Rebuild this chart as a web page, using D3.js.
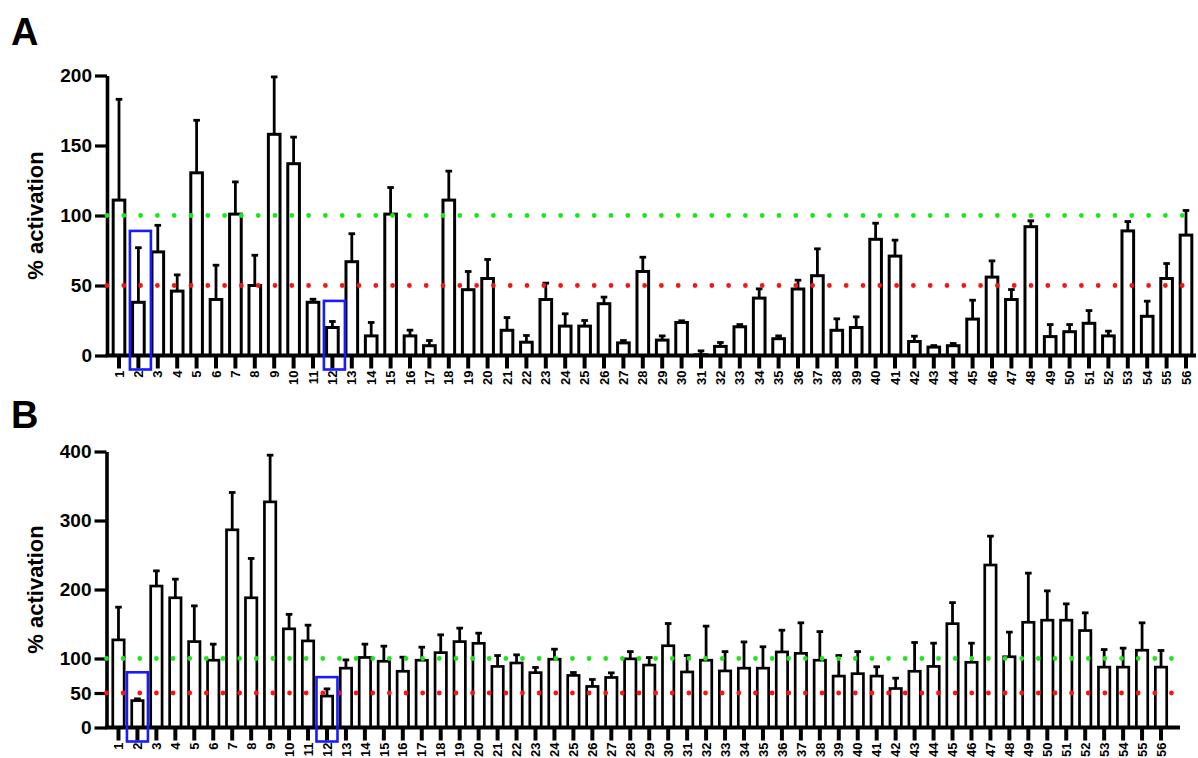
<!DOCTYPE html>
<html>
<head>
<meta charset="utf-8">
<script src="https://cdn.jsdelivr.net/npm/d3@7/dist/d3.min.js"></script>
<style>
  html, body { margin: 0; padding: 0; background: #fff; }
  svg { display: block; font-family: "Liberation Sans", Arial, Helvetica, sans-serif; }
</style>
</head>
<body>
<svg id="chart" width="1198" height="758"></svg>
<script>
// Compound numbers along the x axis
const compounds = ["1","2","3","4","5","6","7","8","9","10","11","12","13","14","15","16","17","18","19","20",
  "21","22","23","24","25","26","27","28","29","30","31","32","33","34","35","36","37","38","39","40",
  "41","42","43","44","45","46","47","48","49","50","51","52","53","54","55","56"];

// Panel A: mean % activation and SD (upper error bar)
const meanA = [111,38,74,46,130.5,40,101,50,158,137,38,20,67,14,101,14,7,111,47,55,
  18,9.5,40,21,21,37,9,60,11,23.6,0.5,6.5,20.5,41,12,47.5,57,18,20,83,
  71,10,6,7,26,56,40,92,13.5,17,23,14,89,28,55,86];
const errA = [72,39,19,11.6,37.5,24.5,23,21.6,41,19,2.2,4.3,20,9.6,19,4.1,3.7,20.7,13,13.6,
  9.1,4.8,11.7,8.8,4,4.7,1.7,10.2,3,1.2,2.8,2.8,1.6,6.6,2,6.3,19.2,8.2,7.6,11.5,
  11.4,3.8,1.1,1.6,13.5,11.6,7.1,4.2,8.6,5.1,9.1,3.4,6.7,10.8,10.7,17.6];

// Panel B: mean % activation and SD (upper error bar)
const meanB = [127,39,205,188,124.5,97.5,286.5,188,327,143,125.5,45.5,86,101.5,96,81.5,97.5,108.5,124.5,122,
  88.5,93.5,79.5,99,75.5,59.5,72.5,99.5,90.5,118.5,80.5,97.5,82,86,86,109.5,107.5,97.5,74.5,78,
  74.5,56.5,81.5,88.5,150.5,94.5,235.5,102.5,152.5,155.5,155.5,140.5,87.5,87.5,112,87.5];
const errB = [47.4,2.5,22,27,51.8,23.3,54.1,57,67.7,21,22.8,10.5,12,19.3,21.9,20.4,18.9,25.8,19.5,14.7,
  15.8,11.8,7.5,14.5,4.2,10.1,6.7,10.5,10.9,32.2,23.8,49.4,28,38,31,31.5,44.2,41.5,29.8,32,
  13.5,15,41.7,33.7,30.5,27.7,41.8,35.7,71.2,42.5,23.7,25.7,25.5,27.5,39.7,24.1];

// Y axis ticks
const ticksA = [0, 50, 100, 150, 200];
const ticksB = [0, 50, 100, 200, 300, 400];

// Reference thresholds (full and half activation)
const thresholds = [100, 50];
const thresholdColors = ["#1ee61e", "#f81414"];

// Highlighted compounds and the top of their frames (% activation)
const highlighted = ["2", "12"];
const frameTopA = [89, 39];
const frameTopB = [80, 73];

const svg = d3.select("#chart");

function drawPanel(opt) {
  const g = svg.append("g");
  const x = d3.scaleBand().domain(compounds)
    .range([opt.x0, opt.x1]).paddingInner(0.4).paddingOuter(0.2);
  const y = d3.scaleLinear().domain([0, opt.yMax]).range([opt.yBase, opt.yTop]);
  const rows = compounds.map((c, i) => ({ c, m: opt.mean[i], e: opt.err[i] }));

  // bars
  g.append("g").selectAll("rect").data(rows).join("rect")
    .attr("x", d => x(d.c))
    .attr("y", d => y(d.m))
    .attr("width", x.bandwidth())
    .attr("height", d => y(0) - y(d.m))
    .attr("fill", "#fff")
    .attr("stroke", "#000")
    .attr("stroke-width", opt.barStroke);

  // error bars (upper side only)
  const eb = g.append("g").attr("stroke", "#000").attr("stroke-width", 2.8);
  eb.selectAll("line.v").data(rows).join("line").attr("class", "v")
    .attr("x1", d => x(d.c) + x.bandwidth() / 2)
    .attr("x2", d => x(d.c) + x.bandwidth() / 2)
    .attr("y1", d => y(d.m))
    .attr("y2", d => y(d.m + d.e));
  eb.selectAll("line.cap").data(rows).join("line").attr("class", "cap")
    .attr("x1", d => x(d.c) + x.bandwidth() / 2 - 3.3)
    .attr("x2", d => x(d.c) + x.bandwidth() / 2 + 3.3)
    .attr("y1", d => y(d.m + d.e))
    .attr("y2", d => y(d.m + d.e));

  // x axis
  const xAxis = g.append("g")
    .attr("transform", `translate(0,${opt.yBase})`)
    .call(d3.axisBottom(x).tickSizeInner(13).tickSizeOuter(0));
  xAxis.select(".domain").remove();
  xAxis.selectAll(".tick line").attr("stroke", "#000").attr("stroke-width", 4);
  xAxis.selectAll(".tick text")
    .attr("transform", "rotate(-90)")
    .attr("x", -15).attr("y", 0).attr("dy", "0.36em")
    .style("text-anchor", "end")
    .attr("fill", "#000")
    .style("font-size", "13px").style("font-weight", "bold");
  g.append("line")
    .attr("x1", opt.axisX - 1.5).attr("x2", opt.axisEnd)
    .attr("y1", opt.yBase).attr("y2", opt.yBase)
    .attr("stroke", "#000").attr("stroke-width", 3.8);

  // y axis
  const yAxis = g.append("g")
    .attr("transform", `translate(${opt.axisX},0)`)
    .call(d3.axisLeft(y).tickValues(opt.ticks).tickSizeInner(12).tickSizeOuter(0).tickPadding(3));
  yAxis.select(".domain").attr("stroke", "#000").attr("stroke-width", 3.6);
  yAxis.selectAll(".tick line").attr("stroke", "#000").attr("stroke-width", 3.2);
  yAxis.selectAll(".tick text").attr("fill", "#000")
    .style("font-size", "19px").style("font-weight", "bold");

  // axis title
  g.append("text")
    .attr("transform", `translate(${opt.titleX},${(opt.yBase + opt.yTop) / 2}) rotate(-90)`)
    .attr("text-anchor", "middle").attr("dy", "0.35em")
    .style("font-size", "22px").style("font-weight", "bold")
    .text("% activation");

  // dotted threshold lines
  g.append("g").selectAll("line").data(thresholds).join("line")
    .attr("x1", opt.axisX).attr("x2", opt.axisEnd)
    .attr("y1", d => y(d)).attr("y2", d => y(d))
    .attr("stroke", (d, i) => thresholdColors[i])
    .attr("stroke-width", 4.8)
    .attr("stroke-linecap", "round")
    .attr("stroke-dasharray", `0 ${opt.dotGap}`);

  // highlight frames
  g.append("g").selectAll("rect").data(highlighted).join("rect")
    .attr("x", d => x(d) + x.bandwidth() / 2 - 10.5 + opt.frameShift)
    .attr("y", (d, i) => y(opt.frameTop[i]))
    .attr("width", 21)
    .attr("height", (d, i) => opt.yBase + 14 - y(opt.frameTop[i]))
    .attr("fill", "none")
    .attr("stroke", "#1a1aff")
    .attr("stroke-width", 2.6);

  // panel letter
  g.append("text")
    .attr("x", 11).attr("y", opt.letterY)
    .style("font-size", "38px").style("font-weight", "bold")
    .text(opt.letter);
}

drawPanel({
  letter: "A", letterY: 45,
  mean: meanA, err: errA, ticks: ticksA, yMax: 200,
  yBase: 355.5, yTop: 75.5,
  x0: 109.3, x1: 1195.7, axisX: 107, axisEnd: 1196,
  titleX: 35, barStroke: 3, dotGap: 16.8,
  frameTop: frameTopA, frameShift: 2
});

drawPanel({
  letter: "B", letterY: 428,
  mean: meanB, err: errB, ticks: ticksB, yMax: 400,
  yBase: 727.5, yTop: 451.5,
  x0: 109, x1: 1170.5, axisX: 106.5, axisEnd: 1180,
  titleX: 35, barStroke: 2.7, dotGap: 16.64,
  frameTop: frameTopB, frameShift: 0
});
</script>
</body>
</html>
